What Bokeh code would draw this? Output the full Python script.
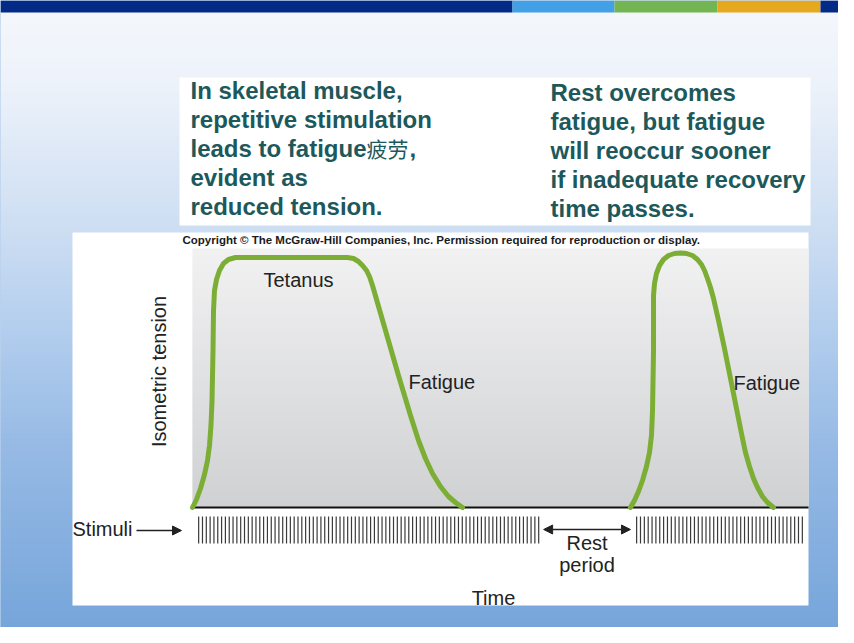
import numpy as np
from bokeh.plotting import figure
from bokeh.models import Range1d, Arrow, NormalHead
from bokeh.core.properties import value
from bokeh.embed import file_html
from bokeh.resources import INLINE

# ---------------- data (time: 0-100 arbitrary units, tension: % of tetanic max) ----------------
curve1_time = [0.0, 0.65, 1.30, 1.95, 2.44, 2.76, 3.00, 3.17, 3.33, 3.41, 3.57, 3.90, 4.38, 5.03, 5.84, 6.98,
               25.16, 26.14, 26.95, 27.60, 28.25, 28.73, 29.22, 31.33, 33.44, 35.39, 36.69, 37.82,
               38.96, 40.26, 41.56, 42.69, 43.83]
curve1_tension = [0.0, 3.2, 7.6, 13.2, 18.8, 24.8, 32.8, 42.8, 62.8, 78.8, 86.8, 91.2, 94.8, 97.6, 99.2, 100.0,
                  100.0, 99.6, 98.4, 96.8, 94.8, 92.4, 88.8, 70.8, 52.8, 36.8, 26.8, 19.6,
                  13.6, 8.4, 4.4, 2.0, 0.0]
curve2_time = [71.10, 71.75, 72.40, 73.05, 73.70, 74.19, 74.51, 74.68, 74.84, 74.84, 75.00, 75.32, 75.81,
               76.46, 77.27, 78.25, 79.22, 80.19, 81.17, 81.98, 82.63, 83.12, 83.60, 84.09, 84.58,
               85.39, 86.36, 87.34, 88.31, 89.12, 89.77, 90.42, 91.07, 91.72, 92.53, 93.34, 94.32]
curve2_tension = [0.0, 2.8, 6.4, 10.8, 16.4, 22.0, 28.8, 38.8, 62.8, 84.8, 89.6, 93.6, 96.8,
                  99.2, 100.8, 101.6, 101.8, 101.6, 100.8, 99.2, 97.2, 94.8, 91.6, 88.0, 83.6,
                  74.8, 63.6, 51.6, 39.6, 29.6, 22.0, 16.4, 11.6, 8.0, 4.4, 2.0, 0.0]
# stimulus trains: (first stimulus, last stimulus, number of stimuli)
train1 = (1.0, 56.2, 90)
train2 = (72.1, 99.0, 44)
rest_period = (57.0, 71.1)

left_lines = ["In skeletal muscle,", "repetitive stimulation", "leads to fatigue", "evident as", "reduced tension."]
right_lines = ["Rest overcomes", "fatigue, but fatigue", "will reoccur sooner", "if inadequate recovery", "time passes."]
cjk_word = "疲劳"
copyright_text = "Copyright \u00a9 The McGraw-Hill Companies, Inc. Permission required for reproduction or display."

# ---------------- layout helpers (reference pixel -> data units) ----------------
def X(px):
    return (px - 192) / 6.16

def Y(py):
    return (507 - py) / 2.5

def hex2rgb(h):
    h = h.lstrip("#")
    return [int(h[i:i + 2], 16) for i in (0, 2, 4)]

def grad(stops, ys):
    sy = [s[0] for s in stops]
    cols = np.array([hex2rgb(s[1]) for s in stops], dtype=float)
    out = []
    for y in ys:
        r = np.interp(y, sy, cols[:, 0]); g = np.interp(y, sy, cols[:, 1]); b = np.interp(y, sy, cols[:, 2])
        out.append("#%02x%02x%02x" % (int(r), int(g), int(b)))
    return out

p = figure(width=838, height=627, x_range=Range1d(X(0), X(838)), y_range=Range1d(Y(627), Y(0)),
           output_backend="svg", toolbar_location=None, min_border=0,
           x_axis_type=None, y_axis_type=None, outline_line_color=None)
p.grid.visible = False
p.background_fill_color = "#74a4da"

# background gradient (strips overlap a little to avoid seams)
bg_stops = [(0, "#f5f8fc"), (80, "#eef3fb"), (230, "#cddef3"), (330, "#b3ceee"), (450, "#96bae5"), (643, "#74a4da")]
edges = np.arange(0, 646, 3)
p.quad(left=X(0), right=X(854), top=[Y(e) for e in edges[:-1]], bottom=[Y(e + 4) for e in edges[:-1]],
       fill_color=grad(bg_stops, edges[:-1] + 1.5), line_color=None)

# top colour bar
bar_l = [0, 512, 614, 717, 820]
bar_r = [512, 614, 717, 820, 854]
bar_c = ["#032a87", "#42a0e6", "#72b552", "#e6a81c", "#032a87"]
p.quad(left=[X(v) for v in bar_l], right=[X(v) for v in bar_r], top=Y(0), bottom=Y(12),
       fill_color=bar_c, line_color=None)

# text box
p.quad(left=X(179), right=X(810), top=Y(77), bottom=Y(225), fill_color="white", line_color=None)
teal = "#1d585b"
tfont = value("Liberation Sans")
p.text(x=X(190), y=[Y(v) for v in [90, 119, 148, 177, 206]], text=left_lines, text_font=tfont,
       text_font_style="bold", text_font_size="24px", text_color=teal, text_baseline="middle")
p.text(x=X(366), y=Y(147), text=[cjk_word], text_font=value("Noto Sans CJK SC"),
       text_font_size="21px", text_color=teal, text_baseline="middle")
p.text(x=X(409), y=Y(148), text=[","], text_font=tfont, text_font_style="bold",
       text_font_size="24px", text_color=teal, text_baseline="middle")
p.text(x=X(550), y=[Y(v) for v in [92, 121, 150, 179, 208]], text=right_lines, text_font=tfont,
       text_font_style="bold", text_font_size="24px", text_color=teal, text_baseline="middle")

# chart panel
p.quad(left=X(72), right=X(808), top=Y(232), bottom=Y(605), fill_color="white", line_color=None)
gedges = np.arange(248, 508, 2)
p.quad(left=0, right=100, top=[Y(e) for e in gedges[:-1]], bottom=[Y(min(e + 3, 507)) for e in gedges[:-1]],
       fill_color=grad([(248, "#f2f2f3"), (507, "#d0d1d3")], gedges[:-1] + 1), line_color=None)
p.segment(x0=0, y0=0, x1=100, y1=0, line_color="#111111", line_width=2.2)

p.text(x=X(182), y=Y(239), text=[copyright_text], text_font=tfont, text_font_style="bold",
       text_font_size="11.5px", text_color="#1a1a1a", text_baseline="middle")

green = "#7cae36"
p.line(curve1_time, curve1_tension, line_color=green, line_width=5, line_join="round", line_cap="round")
p.line(curve2_time, curve2_tension, line_color=green, line_width=5, line_join="round", line_cap="round")

stim = np.concatenate([np.linspace(*train1), np.linspace(*train2)])
p.segment(x0=stim, x1=stim, y0=Y(516), y1=Y(543), line_color="#3a3a3a", line_width=1.2)

ink = "#222222"
cfont = "20px"
p.text(x=X(158), y=Y(371), text=["Isometric tension"], angle=np.pi / 2, text_font=tfont,
       text_font_size=cfont, text_color=ink, text_align="center", text_baseline="middle")
p.text(x=X(263), y=Y(279), text=["Tetanus"], text_font=tfont, text_font_size=cfont,
       text_color=ink, text_baseline="middle")
p.text(x=[X(408), X(733)], y=[Y(381), Y(382)], text=["Fatigue", "Fatigue"], text_font=tfont,
       text_font_size=cfont, text_color=ink, text_baseline="middle")
p.text(x=X(72), y=Y(528), text=["Stimuli"], text_font=tfont, text_font_size=cfont,
       text_color=ink, text_baseline="middle")
rest_mid = (rest_period[0] + rest_period[1]) / 2
p.text(x=rest_mid, y=[Y(542), Y(564)], text=["Rest", "period"], text_font=tfont,
       text_font_size=cfont, text_color=ink, text_align="center", text_baseline="middle")
p.text(x=X(493), y=Y(597), text=["Time"], text_font=tfont, text_font_size=cfont,
       text_color=ink, text_align="center", text_baseline="middle")

p.add_layout(Arrow(end=NormalHead(size=9, fill_color=ink, line_color=ink), x_start=X(136), y_start=Y(530),
                   x_end=X(181), y_end=Y(530), line_color=ink, line_width=1.6))
p.add_layout(Arrow(start=NormalHead(size=9, fill_color=ink, line_color=ink),
                   end=NormalHead(size=9, fill_color=ink, line_color=ink),
                   x_start=rest_period[0], y_start=Y(529), x_end=rest_period[1], y_end=Y(529),
                   line_color=ink, line_width=1.6))

open("out.html", "w").write(file_html(p, INLINE))
